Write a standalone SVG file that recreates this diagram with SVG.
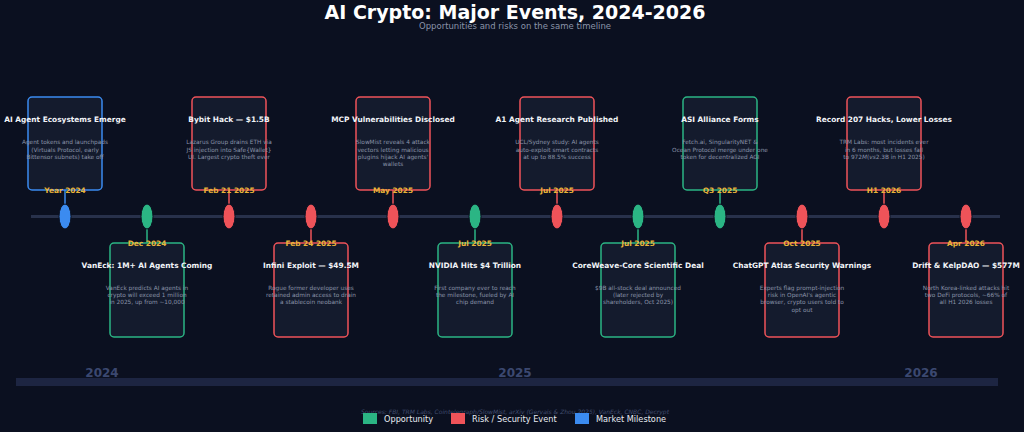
<svg xmlns="http://www.w3.org/2000/svg" width="1024" height="432" viewBox="0 0 1024 432">
<style>
text{font-family:"DejaVu Sans","Liberation Sans",sans-serif}
.ttl{font-size:19px;font-weight:bold;fill:#ffffff;text-anchor:middle}
.sub{font-size:8.5px;fill:#8a93a8;text-anchor:middle}
.card{fill:#141b2d;stroke-width:1.5}
.g{stroke:#2bb584}.r{stroke:#ef5359}.b{stroke:#3b8bf0}
.gf{fill:#2bb584}.rf{fill:#ef5359}.bf{fill:#3b8bf0}
.ct{font-size:7.4px;font-weight:bold;fill:#f2f4f8;text-anchor:middle}
.cb{font-size:5.8px;fill:#8a93a8;text-anchor:middle}
.dt{font-size:7.4px;font-weight:bold;fill:#e8b43a;text-anchor:middle}
.stem{stroke-width:1.5}
.mk{stroke:#0b1020;stroke-width:1}
.yr{font-size:12px;font-weight:bold;fill:#3b4870;text-anchor:middle}
.src{font-size:6px;font-style:italic;fill:#414d6e;text-anchor:middle}
.lg{font-size:8.2px;fill:#e8ebf2}
</style>
<rect width="1024" height="432" fill="#0b1020"/>
<text class="ttl" x="515" y="19">AI Crypto: Major Events, 2024-2026</text>
<text class="sub" x="515" y="29">Opportunities and risks on the same timeline</text>

<g id="timeline">
<line x1="31" y1="216.5" x2="1000" y2="216.5" stroke="#28314b" stroke-width="3"/>
</g>

<g id="connectors">
<line class="stem b" x1="65" y1="190" x2="65" y2="204"/>
<line class="stem g" x1="147" y1="229" x2="147" y2="243"/>
<line class="stem r" x1="229" y1="190" x2="229" y2="204"/>
<line class="stem r" x1="311" y1="229" x2="311" y2="243"/>
<line class="stem r" x1="393" y1="190" x2="393" y2="204"/>
<line class="stem g" x1="475" y1="229" x2="475" y2="243"/>
<line class="stem r" x1="557" y1="190" x2="557" y2="204"/>
<line class="stem g" x1="638" y1="229" x2="638" y2="243"/>
<line class="stem g" x1="720" y1="190" x2="720" y2="204"/>
<line class="stem r" x1="802" y1="229" x2="802" y2="243"/>
<line class="stem r" x1="884" y1="190" x2="884" y2="204"/>
<line class="stem r" x1="966" y1="229" x2="966" y2="243"/>
</g>

<g id="e1">
<rect class="card b" x="28" y="97" width="74" height="93" rx="4"/>
<text class="ct" x="65" y="122">AI Agent Ecosystems Emerge</text>
<text class="cb" x="65" y="144.4">Agent tokens and launchpads</text>
<text class="cb" x="65" y="151.8">(Virtuals Protocol, early</text>
<text class="cb" x="65" y="159.1">Bittensor subnets) take off</text>
<text class="dt" x="65" y="193">Year 2024</text>
<ellipse class="mk bf" cx="65" cy="216.5" rx="6" ry="12.5"/>
</g>

<g id="e2">
<rect class="card g" x="110" y="243" width="74" height="94" rx="4"/>
<text class="ct" x="147" y="267.7">VanEck: 1M+ AI Agents Coming</text>
<text class="cb" x="147" y="289.8">VanEck predicts AI agents in</text>
<text class="cb" x="147" y="297.1">crypto will exceed 1 million</text>
<text class="cb" x="147" y="304.4">in 2025, up from ~10,000</text>
<text class="dt" x="147" y="245.5">Dec 2024</text>
<ellipse class="mk gf" cx="147" cy="216.5" rx="6" ry="12.5"/>
</g>

<g id="e3">
<rect class="card r" x="192" y="97" width="74" height="93" rx="4"/>
<text class="ct" x="229" y="122">Bybit Hack — $1.5B</text>
<text class="cb" x="229" y="144.4">Lazarus Group drains ETH via</text>
<text class="cb" x="229" y="151.8">JS injection into Safe{Wallet}</text>
<text class="cb" x="229" y="159.1">UI. Largest crypto theft ever</text>
<text class="dt" x="229" y="193">Feb 21 2025</text>
<ellipse class="mk rf" cx="229" cy="216.5" rx="6" ry="12.5"/>
</g>

<g id="e4">
<rect class="card r" x="274" y="243" width="74" height="94" rx="4"/>
<text class="ct" x="311" y="267.7">Infini Exploit — $49.5M</text>
<text class="cb" x="311" y="289.8">Rogue former developer uses</text>
<text class="cb" x="311" y="297.1">retained admin access to drain</text>
<text class="cb" x="311" y="304.4">a stablecoin neobank</text>
<text class="dt" x="311" y="245.5">Feb 24 2025</text>
<ellipse class="mk rf" cx="311" cy="216.5" rx="6" ry="12.5"/>
</g>

<g id="e5">
<rect class="card r" x="356" y="97" width="74" height="93" rx="4"/>
<text class="ct" x="393" y="122">MCP Vulnerabilities Disclosed</text>
<text class="cb" x="393" y="144.4">SlowMist reveals 4 attack</text>
<text class="cb" x="393" y="151.8">vectors letting malicious</text>
<text class="cb" x="393" y="159.1">plugins hijack AI agents'</text>
<text class="cb" x="393" y="166.4">wallets</text>
<text class="dt" x="393" y="193">May 2025</text>
<ellipse class="mk rf" cx="393" cy="216.5" rx="6" ry="12.5"/>
</g>

<g id="e6">
<rect class="card g" x="438" y="243" width="74" height="94" rx="4"/>
<text class="ct" x="475" y="267.7">NVIDIA Hits $4 Trillion</text>
<text class="cb" x="475" y="289.8">First company ever to reach</text>
<text class="cb" x="475" y="297.1">the milestone, fueled by AI</text>
<text class="cb" x="475" y="304.4">chip demand</text>
<text class="dt" x="475" y="245.5">Jul 2025</text>
<ellipse class="mk gf" cx="475" cy="216.5" rx="6" ry="12.5"/>
</g>

<g id="e7">
<rect class="card r" x="520" y="97" width="74" height="93" rx="4"/>
<text class="ct" x="557" y="122">A1 Agent Research Published</text>
<text class="cb" x="557" y="144.4">UCL/Sydney study: AI agents</text>
<text class="cb" x="557" y="151.8">auto-exploit smart contracts</text>
<text class="cb" x="557" y="159.1">at up to 88.5% success</text>
<text class="dt" x="557" y="193">Jul 2025</text>
<ellipse class="mk rf" cx="557" cy="216.5" rx="6" ry="12.5"/>
</g>

<g id="e8">
<rect class="card g" x="601" y="243" width="74" height="94" rx="4"/>
<text class="ct" x="638" y="267.7">CoreWeave-Core Scientific Deal</text>
<text class="cb" x="638" y="289.8">$9B all-stock deal announced</text>
<text class="cb" x="638" y="297.1">(later rejected by</text>
<text class="cb" x="638" y="304.4">shareholders, Oct 2025)</text>
<text class="dt" x="638" y="245.5">Jul 2025</text>
<ellipse class="mk gf" cx="638" cy="216.5" rx="6" ry="12.5"/>
</g>

<g id="e9">
<rect class="card g" x="683" y="97" width="74" height="93" rx="4"/>
<text class="ct" x="720" y="122">ASI Alliance Forms</text>
<text class="cb" x="720" y="144.4">Fetch.ai, SingularityNET &amp;</text>
<text class="cb" x="720" y="151.8">Ocean Protocol merge under one</text>
<text class="cb" x="720" y="159.1">token for decentralized AGI</text>
<text class="dt" x="720" y="193">Q3 2025</text>
<ellipse class="mk gf" cx="720" cy="216.5" rx="6" ry="12.5"/>
</g>

<g id="e10">
<rect class="card r" x="765" y="243" width="74" height="94" rx="4"/>
<text class="ct" x="802" y="267.7">ChatGPT Atlas Security Warnings</text>
<text class="cb" x="802" y="289.8">Experts flag prompt-injection</text>
<text class="cb" x="802" y="297.1">risk in OpenAI's agentic</text>
<text class="cb" x="802" y="304.4">browser, crypto users told to</text>
<text class="cb" x="802" y="311.8">opt out</text>
<text class="dt" x="802" y="245.5">Oct 2025</text>
<ellipse class="mk rf" cx="802" cy="216.5" rx="6" ry="12.5"/>
</g>

<g id="e11">
<rect class="card r" x="847" y="97" width="74" height="93" rx="4"/>
<text class="ct" x="884" y="122">Record 207 Hacks, Lower Losses</text>
<text class="cb" x="884" y="144.4">TRM Labs: most incidents ever</text>
<text class="cb" x="884" y="151.8">in 6 months, but losses fall</text>
<text class="cb" x="884" y="159.1">to 972<tspan font-style="italic">M</tspan>(<tspan font-style="italic">vs</tspan>2.3B in H1 2025)</text>
<text class="dt" x="884" y="193">H1 2026</text>
<ellipse class="mk rf" cx="884" cy="216.5" rx="6" ry="12.5"/>
</g>

<g id="e12">
<rect class="card r" x="929" y="243" width="74" height="94" rx="4"/>
<text class="ct" x="966" y="267.7">Drift &amp; KelpDAO — $577M</text>
<text class="cb" x="966" y="289.8">North Korea-linked attacks hit</text>
<text class="cb" x="966" y="297.1">two DeFi protocols, ~66% of</text>
<text class="cb" x="966" y="304.4">all H1 2026 losses</text>
<text class="dt" x="966" y="245.5">Apr 2026</text>
<ellipse class="mk rf" cx="966" cy="216.5" rx="6" ry="12.5"/>
</g>

<g id="year-axis">
<rect x="16" y="378" width="982" height="8" fill="#1d2542"/>
<text class="yr" x="102" y="377">2024</text>
<text class="yr" x="515" y="377">2025</text>
<text class="yr" x="921" y="377">2026</text>
</g>

<text class="src" x="515" y="414">Sources: FBI, TRM Labs, Cointelegraph/SlowMist, arXiv (Gervais &amp; Zhou 2025), VanEck, CNBC, Decrypt</text>

<g id="legend">
<rect x="363" y="413" width="14" height="11" class="gf"/>
<text class="lg" x="384" y="421.5">Opportunity</text>
<rect x="451" y="413" width="14" height="11" class="rf"/>
<text class="lg" x="472" y="421.5">Risk / Security Event</text>
<rect x="575" y="413" width="14" height="11" class="bf"/>
<text class="lg" x="596" y="421.5">Market Milestone</text>
</g>
</svg>
